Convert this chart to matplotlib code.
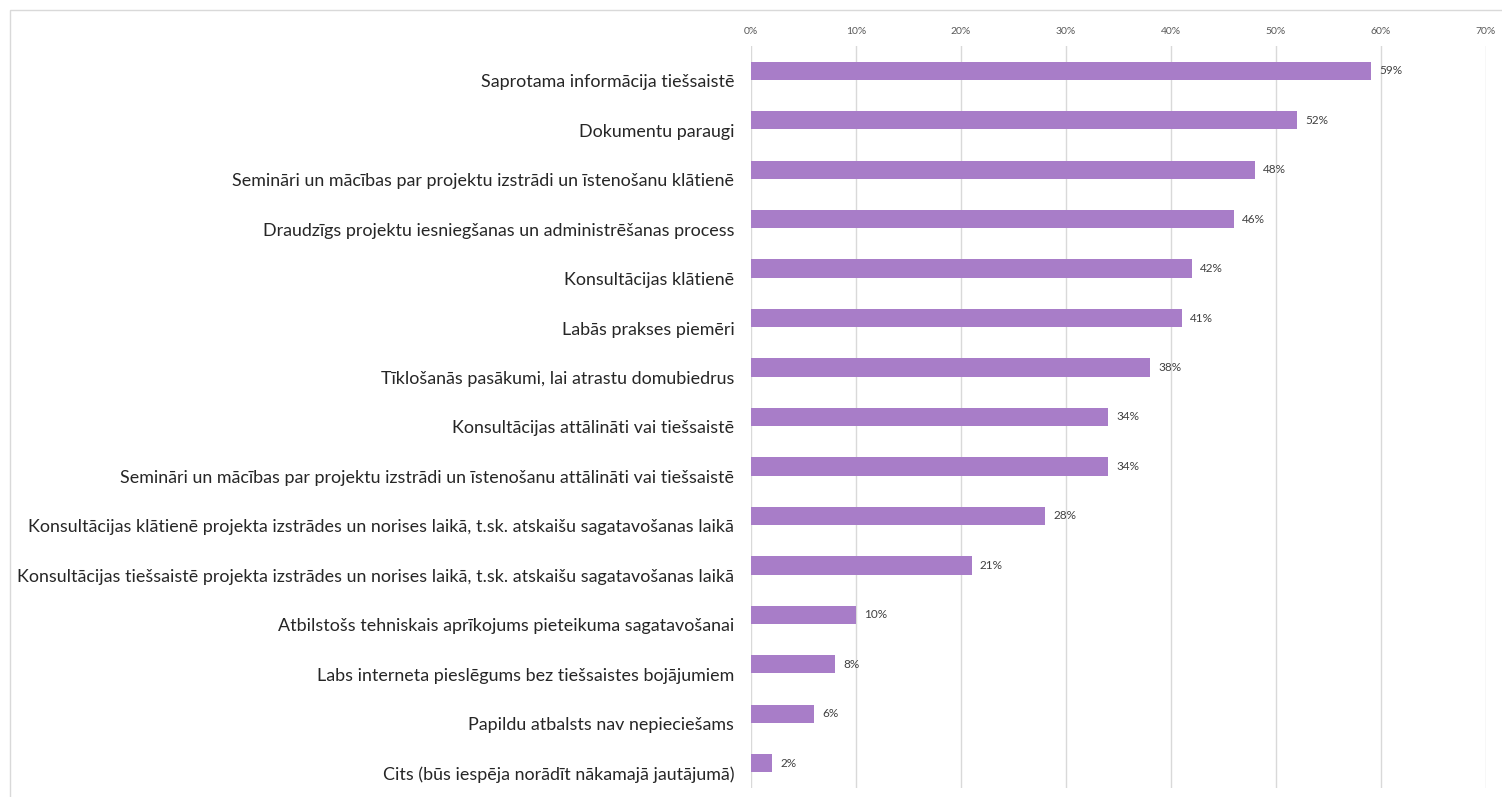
import matplotlib.pyplot as plt
import matplotlib.patches as mpatches
import matplotlib.transforms as mtransforms
from matplotlib.ticker import FuncFormatter

plt.rcParams['font.family'] = ['Lato', 'DejaVu Sans']

labels = [
    'Saprotama informācija tiešsaistē',
    'Dokumentu paraugi',
    'Semināri un mācības par projektu izstrādi un īstenošanu klātienē',
    'Draudzīgs projektu iesniegšanas un administrēšanas process',
    'Konsultācijas klātienē',
    'Labās prakses piemēri',
    'Tīklošanās pasākumi, lai atrastu domubiedrus',
    'Konsultācijas attālināti vai tiešsaistē',
    'Semināri un mācības par projektu izstrādi un īstenošanu attālināti vai tiešsaistē',
    'Konsultācijas klātienē projekta izstrādes un norises laikā, t.sk. atskaišu sagatavošanas laikā',
    'Konsultācijas tiešsaistē projekta izstrādes un norises laikā, t.sk. atskaišu sagatavošanas laikā',
    'Atbilstošs tehniskais aprīkojums pieteikuma sagatavošanai',
    'Labs interneta pieslēgums bez tiešsaistes bojājumiem',
    'Papildu atbalsts nav nepieciešams',
    'Cits (būs iespēja norādīt nākamajā jautājumā)',
]
values = [59, 52, 48, 46, 42, 41, 38, 34, 34, 28, 21, 10, 8, 6, 2]
ticks = [0, 10, 20, 30, 40, 50, 60, 70]

W, H = 1502, 797
fig = plt.figure(figsize=(W / 100, H / 100), dpi=100)
ax = fig.add_axes([751 / W, 1 - 788 / H, (1486 - 751) / W, (788 - 46) / H])

bar_color = '#a87dc8'
pos = list(range(len(values)))
ax.barh(pos, values, height=0.37, color=bar_color)
for p, v in zip(pos, values):
    ax.text(v + 0.8, p, f'{v}%', va='center', ha='left', fontsize=8.5, color='#404040')

ax.set_ylim(len(values) - 0.5, -0.5)
ax.set_xlim(0, 70)
ax.set_xticks(ticks)
ax.xaxis.set_major_formatter(FuncFormatter(lambda x, _: f'{x:.0f}%'))
ax.xaxis.tick_top()
ax.tick_params(axis='x', length=0, labelsize=7.5, labelcolor='#595959', pad=7)
ax.set_yticks(pos)
ax.set_yticklabels(labels, fontsize=12.9, color='#262626')
ax.tick_params(axis='y', length=0, pad=12)
# category labels sit a little below the bar centre in the original
shift = mtransforms.ScaledTranslation(0, -10 / 100, fig.dpi_scale_trans)
for t in ax.get_yticklabels():
    t.set_transform(t.get_transform() + shift)
ax.grid(axis='x', color='#d9d9d9', linewidth=1)
ax.set_axisbelow(True)
for s in ax.spines.values():
    s.set_visible(False)

# thin frame around the chart area
fig.patches.append(mpatches.Rectangle((10 / W, -0.01), 1.1, 1 - 10 / H + 0.01,
                                      transform=fig.transFigure, fill=False,
                                      edgecolor='#d9d9d9', linewidth=1))

fig.savefig('out.png', dpi=100)
